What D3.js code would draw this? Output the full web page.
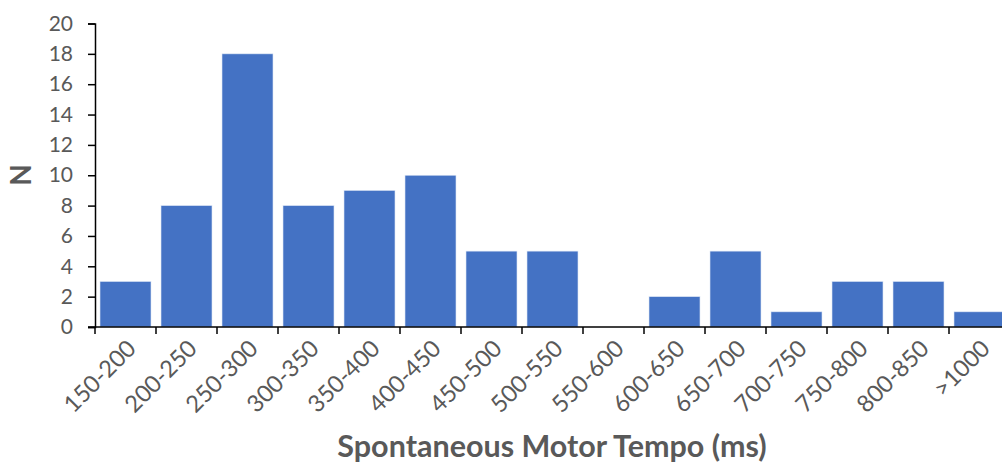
<!DOCTYPE html>
<html>
<head>
<meta charset="utf-8">
<script src="https://cdn.jsdelivr.net/npm/d3@7"></script>
<style>
  body { margin: 0; background: #fff; }
  text { font-family: Lato, "Liberation Sans", sans-serif; }
</style>
</head>
<body>
<svg id="chart" width="1002" height="464"></svg>
<script>
// categories + counts
let bins = ["150-200","200-250","250-300","300-350","350-400","400-450","450-500",
            "500-550","550-600","600-650","650-700","700-750","750-800","800-850",">1000"];
let counts = [3, 8, 18, 8, 9, 10, 5, 5, 0, 2, 5, 1, 3, 3, 1];
let yTicks = d3.range(0, 21, 2);

let svg = d3.select("#chart");

let x = d3.scaleBand().domain(bins).range([95, 1010]).paddingInner(0.164).paddingOuter(0.082);
let y = d3.scaleLinear().domain([0, 20]).range([327, 23.5]);

// bars
svg.selectAll(".bar")
    .data(counts)
    .enter()
    .append("rect")
    .attr("class", "bar")
    .attr("x", (d, i) => x(bins[i]))
    .attr("y", d => y(d))
    .attr("width", x.bandwidth())
    .attr("height", d => y(0) - y(d))
    .attr("fill", "#4472C4")
    .attr("stroke", "#dce6f5")
    .attr("stroke-width", 0.6);

// y axis
let yAxis = svg.append("g")
    .attr("transform", "translate(95,0)")
    .call(d3.axisLeft(y).tickValues(yTicks).tickSize(7).tickPadding(15).tickFormat(d3.format("d")));
yAxis.select(".domain").attr("stroke", "#000").attr("stroke-width", 1.5);
yAxis.selectAll(".tick line").attr("stroke", "#000").attr("stroke-width", 1.5);
yAxis.selectAll(".tick text").attr("fill", "#595959").style("font-size", "21px");

// x axis, ticks at category boundaries
let xAxisG = svg.append("g").attr("transform", "translate(0,327)");
xAxisG.append("line")
    .attr("x1", 88).attr("x2", 1010)
    .attr("stroke", "#000").attr("stroke-width", 1.5);
xAxisG.selectAll(".xtick")
    .data(d3.range(bins.length + 1))
    .enter()
    .append("line")
    .attr("x1", i => 95 + i * x.step())
    .attr("x2", i => 95 + i * x.step())
    .attr("y1", 0).attr("y2", 7)
    .attr("stroke", "#000").attr("stroke-width", 1.5);

xAxisG.selectAll(".xlabel")
    .data(bins)
    .enter()
    .append("text")
    .attr("text-anchor", "end")
    .attr("fill", "#595959")
    .style("font-size", "23.5px")
    .attr("transform", d => `translate(${x(d) + x.bandwidth() / 2 + 12},${23}) rotate(-45)`)
    .text(d => d);

// axis titles
svg.append("text")
    .attr("x", 552).attr("y", 457)
    .attr("text-anchor", "middle")
    .attr("fill", "#595959")
    .style("font-size", "30.5px")
    .style("font-weight", "bold")
    .text("Spontaneous Motor Tempo (ms)");

svg.append("text")
    .attr("transform", "translate(31,175) rotate(-90)")
    .attr("text-anchor", "middle")
    .attr("fill", "#595959")
    .style("font-size", "28px")
    .style("font-weight", "bold")
    .text("N");
</script>
</body>
</html>
